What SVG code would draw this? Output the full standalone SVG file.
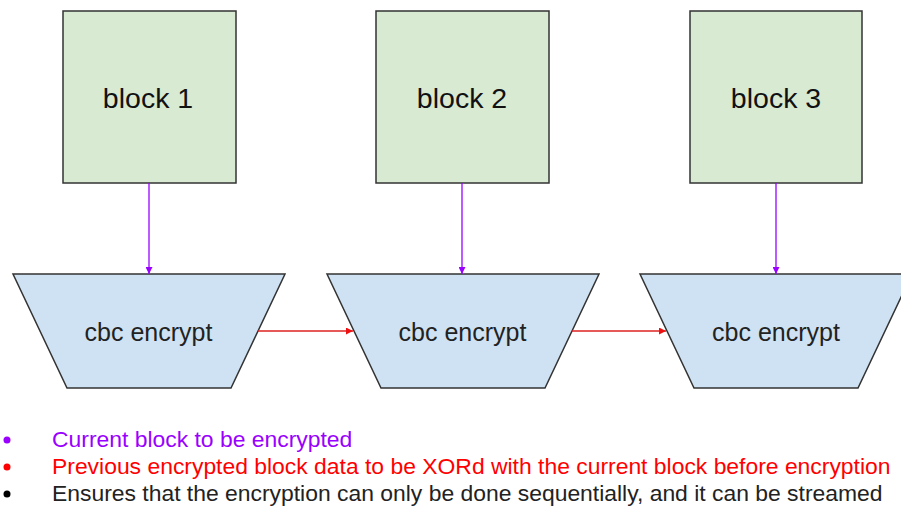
<svg xmlns="http://www.w3.org/2000/svg" width="901" height="508" viewBox="0 0 901 508">
<style>
.blk{fill:#d9ead3;stroke:#333;stroke-width:1.5}
.enc{fill:#cfe2f3;stroke:#333;stroke-width:1.5}
text{font-family:"Liberation Sans",Arial,sans-serif}
.bt{font-size:28.5px;fill:#111;text-anchor:middle}
.et{font-size:25px;fill:#222;text-anchor:middle}
.lg{font-size:22.9px}
.p{stroke:#9900ff;stroke-width:1.3;fill:none}
.r{stroke:#dd2222;stroke-width:1.3;fill:none}
</style>
<defs>
<marker id="ap" viewBox="0 0 10 10" refX="10" refY="5" markerWidth="7" markerHeight="7" markerUnits="userSpaceOnUse" orient="auto"><path d="M0,0L10,5L0,10z" fill="#9900ff"/></marker>
<marker id="ar" viewBox="0 0 10 10" refX="10" refY="5" markerWidth="7" markerHeight="7" markerUnits="userSpaceOnUse" orient="auto"><path d="M0,0L10,5L0,10z" fill="#ee1111"/></marker>
</defs>
<g id="block1"><rect class="blk" x="63" y="11" width="173" height="172"/><text class="bt" x="148" y="108">block 1</text></g>
<g id="block2"><rect class="blk" x="376" y="11" width="173" height="172"/><text class="bt" x="462" y="108">block 2</text></g>
<g id="block3"><rect class="blk" x="690" y="11" width="172" height="172"/><text class="bt" x="776" y="108">block 3</text></g>
<g id="enc1"><polygon class="enc" points="13,274 285,274 231,388 67,388"/><text class="et" x="148.5" y="341">cbc encrypt</text></g>
<g id="enc2"><polygon class="enc" points="327,274 599,274 545,388 381,388"/><text class="et" x="462.5" y="341">cbc encrypt</text></g>
<g id="enc3"><polygon class="enc" points="640,274 912,274 858,388 694,388"/><text class="et" x="776" y="341">cbc encrypt</text></g>
<g id="connectors">
<line class="p" x1="149" y1="183" x2="149" y2="274" marker-end="url(#ap)"/>
<line class="p" x1="462" y1="183" x2="462" y2="274" marker-end="url(#ap)"/>
<line class="p" x1="776" y1="183" x2="776" y2="274" marker-end="url(#ap)"/>
<line class="r" x1="258" y1="331" x2="353" y2="331" marker-end="url(#ar)"/>
<line class="r" x1="572" y1="331" x2="666" y2="331" marker-end="url(#ar)"/>
</g>
<g id="legend">
<circle cx="7" cy="440" r="3.5" fill="#9900ff"/>
<circle cx="7" cy="467" r="3.5" fill="#ff0000"/>
<circle cx="7" cy="494" r="3.5" fill="#000"/>
<text class="lg" x="52" y="447" fill="#9900ff">Current block to be encrypted</text>
<text class="lg" x="52" y="474" fill="#ff0000">Previous encrypted block data to be XORd with the current block before encryption</text>
<text class="lg" x="52" y="501" fill="#222">Ensures that the encryption can only be done sequentially, and it can be streamed</text>
</g>
</svg>
